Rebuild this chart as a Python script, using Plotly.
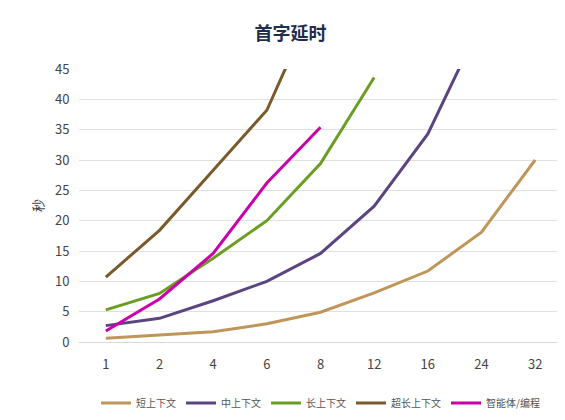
import plotly.graph_objects as go

x_labels = ["1", "2", "4", "6", "8", "12", "16", "24", "32"]
names = ["短上下文", "中上下文", "长上下文", "超长上下文", "智能体/编程"]
colors = ["#C0955A", "#5B4480", "#6A9E22", "#7A5A2A", "#CC00AA"]
short_ctx = [0.6, 1.1, 1.7, 3.0, 4.9, 8.1, 11.7, 18.1, 30.0]
mid_ctx = [2.7, 3.9, 6.8, 10.0, 14.6, 22.4, 34.3, 52.8]
long_ctx = [5.3, 8.0, 13.8, 20.0, 29.4, 43.6]
xlong_ctx = [10.7, 18.4, 28.3, 38.2, 58.0]
agent = [1.8, 7.1, 14.6, 26.2, 35.4]
series = [short_ctx, mid_ctx, long_ctx, xlong_ctx, agent]

fig = go.Figure()
for n, c, v in zip(names, colors, series):
    fig.add_trace(go.Scatter(x=x_labels[:len(v)], y=v, name=n, mode="lines",
                             line=dict(color=c, width=3)))
fig.update_layout(
    width=565, height=420,
    font=dict(family="Noto Sans CJK SC", color="#444"),
    title=dict(text="<b>首字延时</b>", x=0.5, xanchor="center", y=0.955,
               font=dict(size=18, color="#1F2D4D")),
    plot_bgcolor="white", paper_bgcolor="white",
    margin=dict(l=71, r=11, t=61, b=77),
    legend=dict(orientation="h", x=0.5, xanchor="center", y=-0.17, yanchor="top",
                font=dict(size=10, color="#555")),
    xaxis=dict(type="category", range=[-0.5, 8.5], tickfont=dict(size=13), showgrid=False,
               showline=True, linecolor="#D9D9D9", ticks="outside", ticklen=10,
               tickcolor="rgba(0,0,0,0)"),
    yaxis=dict(range=[0, 45], dtick=5, tickfont=dict(size=13), gridcolor="#E0E0E0",
               zeroline=False, ticks="outside", ticklen=6, tickcolor="rgba(0,0,0,0)",
               title=dict(text="秒", font=dict(size=13), standoff=8)),
)
fig.write_html("out.html")
